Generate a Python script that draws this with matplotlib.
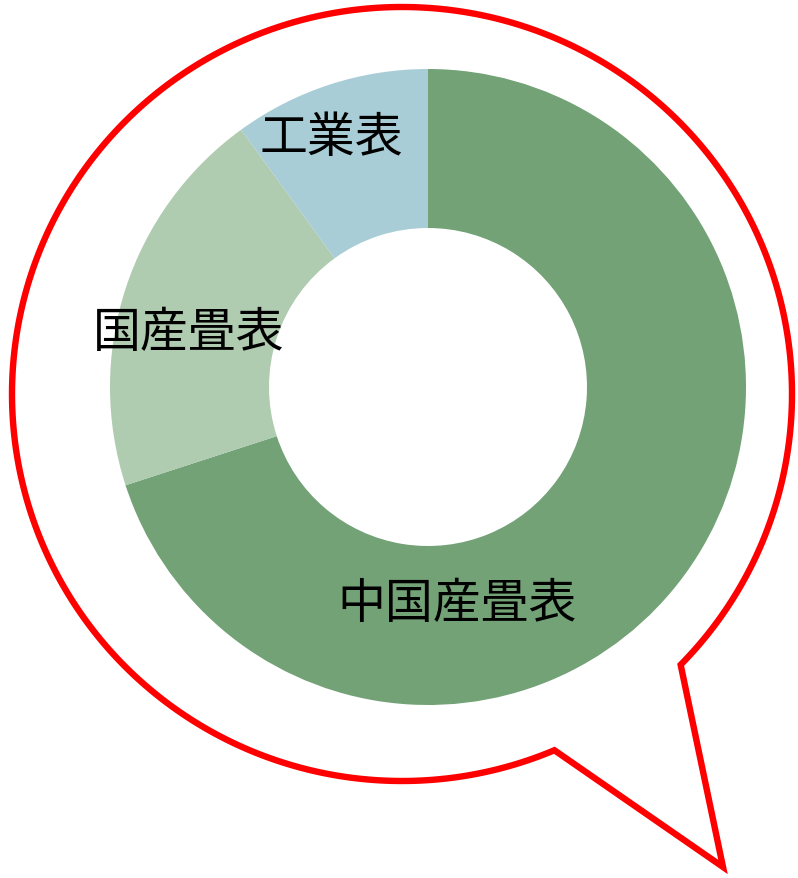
import numpy as np
import matplotlib.pyplot as plt
from matplotlib.path import Path
from matplotlib.patches import PathPatch

plt.rcParams['font.family'] = ['Noto Sans CJK JP', 'DejaVu Sans']

# data
labels = ['中国産畳表', '国産畳表', '工業表']
shares = [70, 20, 10]
colors = ['#72A276', '#AFCBB0', '#A9CDD6']

W, H = 798, 879
fig = plt.figure(figsize=(W / 100, H / 100), dpi=100)
ax = fig.add_axes([0, 0, 1, 1])

# donut (pixel coords, y flipped)
cx, cy, r = 428, H - 388, 318
ax.pie(shares, colors=colors, startangle=90, counterclock=False,
       center=(cx, cy), radius=r, frame=True,
       wedgeprops=dict(width=r / 2, linewidth=0))
ax.set_xlim(0, W)
ax.set_ylim(0, H)
ax.set_aspect('equal')
ax.axis('off')

# labels
label_pos = {'中国産畳表': (457, 604), '国産畳表': (189, 333), '工業表': (331, 138)}
for lab in labels:
    x, y = label_pos[lab]
    ax.text(x, H - y, lab, fontsize=34.5, ha='center', va='center', color='black')

# speech bubble
bx, by, rx, ry = 402, H - 395, 390, 387
t1, t2 = np.deg2rad(-44.4), np.deg2rad(293)
th = np.linspace(t1, t2, 400)
pts = np.column_stack([bx + rx * np.cos(th), by + ry * np.sin(th)])
tip = np.array([[723, H - 868]])
verts = np.vstack([pts, tip, pts[:1]])
codes = [Path.MOVETO] + [Path.LINETO] * (len(verts) - 2) + [Path.CLOSEPOLY]
bubble = PathPatch(Path(verts, codes), facecolor='none', edgecolor='#FF0000',
                   linewidth=4.6, joinstyle='miter', zorder=5)
ax.add_patch(bubble)

fig.savefig('out.png', dpi=100)
